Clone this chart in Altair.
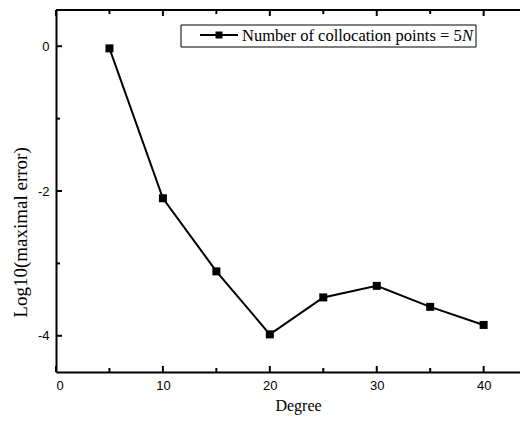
import altair as alt
import pandas as pd

degree = [5, 10, 15, 20, 25, 30, 35, 40]
log_err = [-0.03, -2.10, -3.11, -3.98, -3.47, -3.31, -3.60, -3.85]

x_major = [0, 10, 20, 30, 40]
x_minor = [5, 15, 25, 35]
y_major = [0, -2, -4]
y_minor = [-1, -3]

W, H = 464, 362
XDOM = [0, 43.4]
YDOM = [-4.5, 0.5]

df = pd.DataFrame({"degree": degree, "err": log_err})

xs = alt.Scale(domain=XDOM, nice=False, zero=False)
ys = alt.Scale(domain=YDOM, nice=False, zero=False)

x_axis = alt.Axis(values=x_major, tickSize=0, labelFont="Liberation Sans", labelFontSize=13,
                  labelColor="black", labelPadding=7, title="Degree", titleFont="Liberation Serif",
                  titleFontSize=16, titleFontWeight="normal", titleColor="black", titlePadding=5,
                  titleX=242, domainColor="black", domainWidth=2, grid=False,
                  labelExpr="'' + datum.value")
y_axis = alt.Axis(values=y_major, tickSize=0, labelFont="Liberation Sans", labelFontSize=13,
                  labelColor="black", labelPadding=7, title="Log10(maximal error)",
                  titleFont="Liberation Serif", titleFontSize=19, titleFontWeight="normal",
                  titleColor="black", titlePadding=7, titleY=222, domainColor="black",
                  domainWidth=2, grid=False, labelExpr="'' + datum.value")

base = alt.Chart(df)
line = base.mark_line(color="black", strokeWidth=2).encode(
    x=alt.X("degree:Q", scale=xs, axis=x_axis),
    y=alt.Y("err:Q", scale=ys, axis=y_axis),
)
pts = base.mark_square(size=64, color="black", opacity=1).encode(
    x=alt.X("degree:Q", scale=xs),
    y=alt.Y("err:Q", scale=ys),
)


def xticks(vals, length):
    d = pd.DataFrame({"tx": vals})
    bot = alt.Chart(d).mark_rule(color="black", strokeWidth=2).encode(
        x=alt.X("tx:Q", scale=xs), y=alt.value(H), y2=alt.value(H - length))
    top = alt.Chart(d).mark_rule(color="black", strokeWidth=2).encode(
        x=alt.X("tx:Q", scale=xs), y=alt.value(0), y2=alt.value(length))
    return [bot, top]


def yticks(vals, length):
    d = pd.DataFrame({"ty": vals})
    return [alt.Chart(d).mark_rule(color="black", strokeWidth=2).encode(
        y=alt.Y("ty:Q", scale=ys), x=alt.value(0), x2=alt.value(length))]


leg_df = pd.DataFrame({"a": [0]})
top_line = alt.Chart(leg_df).mark_rule(color="black", strokeWidth=2).encode(
    x=alt.value(0), x2=alt.value(W), y=alt.value(0))
leg_box = alt.Chart(leg_df).mark_rect(fill="white", stroke="black", strokeWidth=1).encode(
    x=alt.value(125), x2=alt.value(420), y=alt.value(15), y2=alt.value(37))
leg_line = alt.Chart(leg_df).mark_rule(color="black", strokeWidth=2).encode(
    x=alt.value(144), x2=alt.value(182), y=alt.value(25))
leg_pt = alt.Chart(leg_df).mark_square(size=49, color="black", opacity=1).encode(
    x=alt.value(163), y=alt.value(25))
leg_text = alt.Chart(leg_df).mark_text(align="left", baseline="middle", font="Liberation Serif",
                                       fontSize=16.5, color="black").encode(
    x=alt.value(186), y=alt.value(26), text=alt.value("Number of collocation points = 5"))
leg_n = alt.Chart(leg_df).mark_text(align="left", baseline="middle", font="Liberation Serif",
                                    fontSize=16.5, fontStyle="italic", color="black").encode(
    x=alt.value(406), y=alt.value(26), text=alt.value("N"))

layers = [line, pts, top_line]
layers += xticks(x_major, 6) + xticks(x_minor, 4) + yticks(y_major, 6) + yticks(y_minor, 4)
layers += [leg_box, leg_line, leg_pt, leg_text, leg_n]

chart = alt.layer(*layers).properties(
    width=W, height=H,
    autosize=alt.AutoSizeParams(type="none"),
    padding={"left": 48, "top": 2, "right": 0, "bottom": 46},
).configure_view(stroke=None).configure(background="white")

chart.save("out.html", embed_options={"renderer": "svg", "actions": False})
